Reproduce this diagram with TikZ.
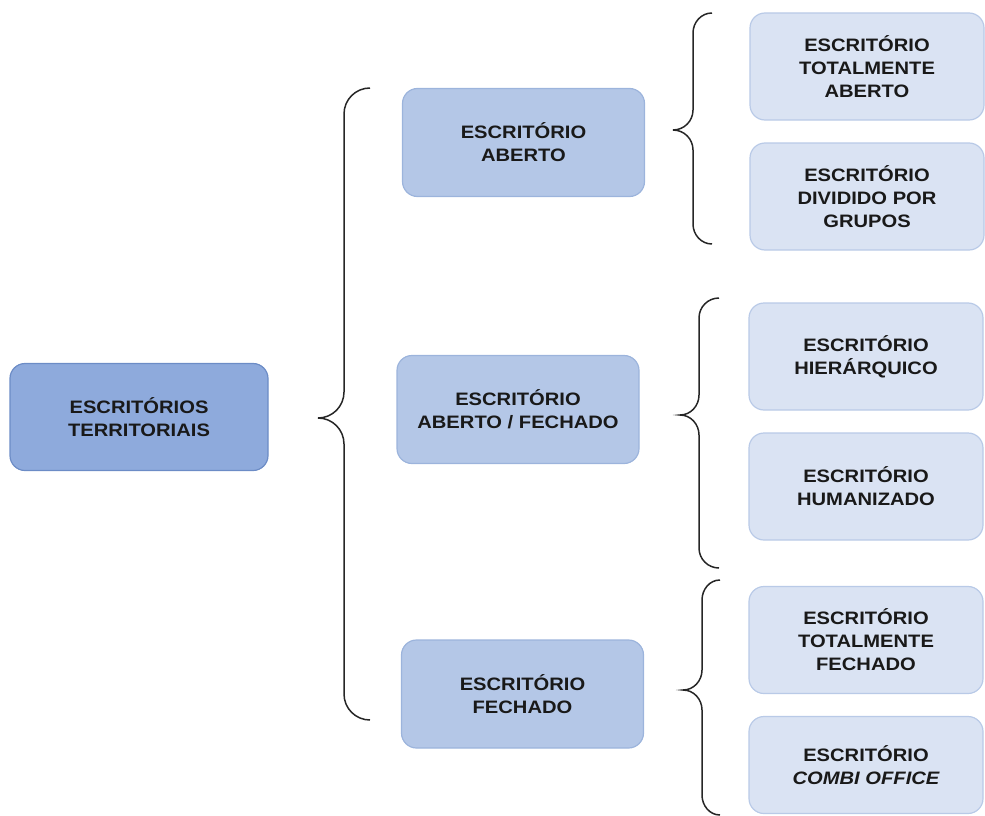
\documentclass[tikz,border=0pt]{standalone}
\usepackage{fontspec}
\setmainfont{Liberation Sans}[FakeStretch=1.12]
\begin{document}
\begin{tikzpicture}[x=1pt,y=-1pt,
  box/.style={rounded corners=15pt, line width=1.2pt, align=center,
    font=\fontsize{18}{23}\selectfont\bfseries, text=black!90, inner sep=0pt},
  rootbox/.style={box, fill=rootfill, draw=rootline, minimum width=258pt, minimum height=107pt},
  midbox/.style={box, fill=midfill, draw=midline, minimum width=242pt, minimum height=108pt},
  leafbox/.style={box, fill=leaffill, draw=leafline, minimum width=234pt, minimum height=107pt},
  bracestroke/.style={line width=1.5pt, black!85}
]
\definecolor{rootfill}{HTML}{8EAADC}
\definecolor{rootline}{HTML}{6C8CC6}
\definecolor{midfill}{HTML}{B4C7E7}
\definecolor{midline}{HTML}{9CB4DC}
\definecolor{leaffill}{HTML}{DAE3F3}
\definecolor{leafline}{HTML}{B9CAE7}

\useasboundingbox (0,0) rectangle (985,816);

% boxes
\node[rootbox] (root) at (139,417) {ESCRITÓRIOS\\TERRITORIAIS};

\node[midbox] (aberto)  at (523.5,142.5) {ESCRITÓRIO\\ABERTO};
\node[midbox] (misto)   at (518,409.5)   {ESCRITÓRIO\\ABERTO / FECHADO};
\node[midbox] (fechado) at (522.5,694)   {ESCRITÓRIO\\FECHADO};

\node[leafbox] (totab)  at (867,66.5)  {ESCRITÓRIO\\TOTALMENTE\\ABERTO};
\node[leafbox] (grupos) at (867,196.5) {ESCRITÓRIO\\DIVIDIDO POR\\GRUPOS};
\node[leafbox] (hier)   at (866,356.5) {ESCRITÓRIO\\HIERÁRQUICO};
\node[leafbox] (human)  at (866,486.5) {ESCRITÓRIO\\HUMANIZADO};
\node[leafbox] (totfe)  at (866,640)   {ESCRITÓRIO\\TOTALMENTE\\FECHADO};
\node[leafbox, minimum height=97pt] (combi) at (866,765) {ESCRITÓRIO\\\itshape COMBI OFFICE};

% curly braces: top end, tip, bottom end, spine x
\newcommand{\curlybrace}[7]{%
  % #1 top x, #2 top y, #3 tip x, #4 tip y, #5 bottom y, #6 spine x, #7 curve size
  \draw[bracestroke] (#1,#2) to[out=180,in=90] (#6,#2+#7)
    -- (#6,#4-#7) to[out=-90,in=0] (#3,#4)
    to[out=0,in=90] (#6,#4+#7)
    -- (#6,#5-#7) to[out=-90,in=180] (#1,#5);}

\curlybrace{370}{88}{318}{418}{720}{344}{26}
\curlybrace{712}{13}{673}{130}{244}{693}{20}
\curlybrace{719}{298}{680}{415}{568}{699}{20}
\curlybrace{720}{580}{683}{690}{815}{702}{20}
\end{tikzpicture}
\end{document}
